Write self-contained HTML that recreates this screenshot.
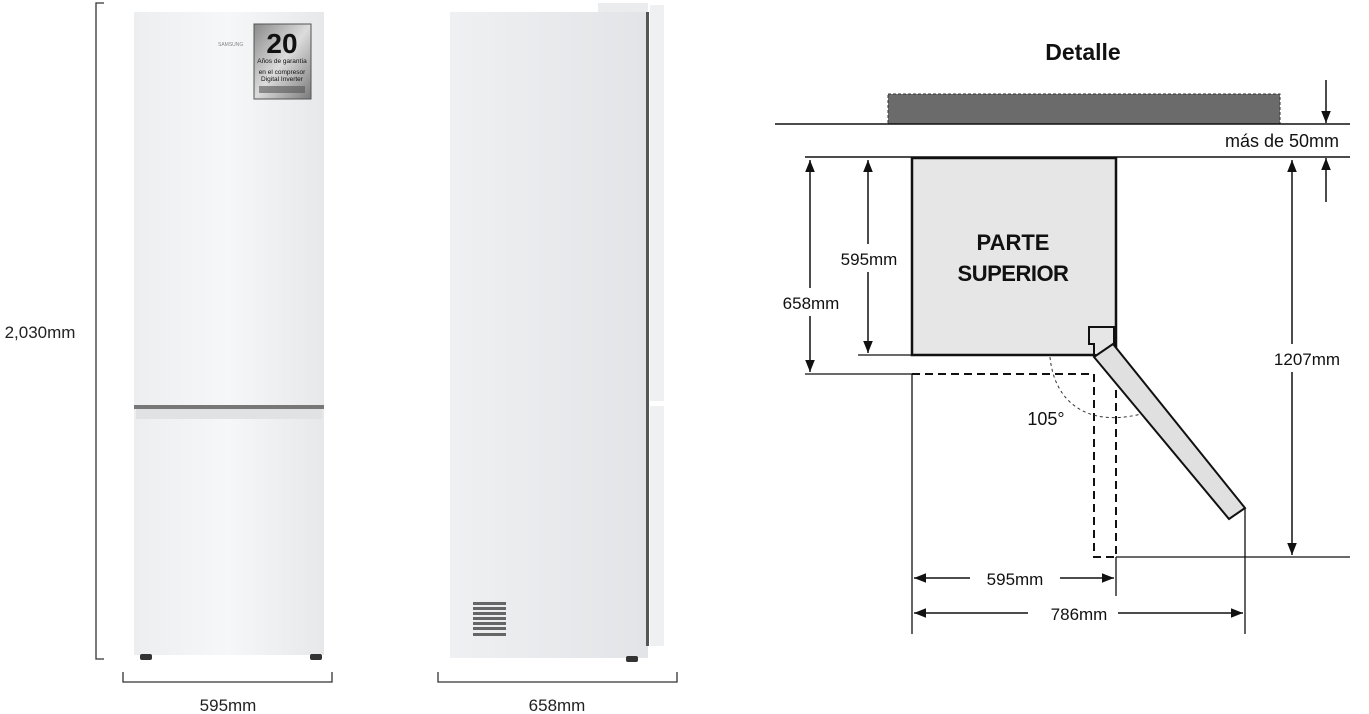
<!DOCTYPE html>
<html><head><meta charset="utf-8"><style>
html,body{margin:0;padding:0;background:#fff;}
svg{display:block;font-family:"Liberation Sans","DejaVu Sans",sans-serif;}
</style></head><body>
<svg width="1369" height="714" viewBox="0 0 1369 714" xmlns="http://www.w3.org/2000/svg">
<defs>
<linearGradient id="fr" x1="0" x2="1" y1="0" y2="0">
<stop offset="0" stop-color="#eceef0"/><stop offset="0.5" stop-color="#f6f7f8"/><stop offset="1" stop-color="#e6e8ea"/></linearGradient>
<linearGradient id="sd" x1="0" x2="1" y1="0" y2="0">
<stop offset="0" stop-color="#eef0f2"/><stop offset="1" stop-color="#e2e4e7"/></linearGradient>
<linearGradient id="lbl" x1="0" x2="1" y1="0" y2="1">
<stop offset="0" stop-color="#8a8a8a"/><stop offset="0.5" stop-color="#dcdcdc"/><stop offset="1" stop-color="#7a7a7a"/></linearGradient>
<marker id="ah" viewBox="0 0 10 10" refX="10" refY="5" markerWidth="12" markerHeight="12" markerUnits="userSpaceOnUse" orient="auto-start-reverse"><path d="M0,1 L10,5 L0,9 z" fill="#111"/></marker>
</defs>

<path d="M104,3 H96 V659 H104" fill="none" stroke="#333" stroke-width="1.3"/>
<text x="40" y="338" font-size="17" text-anchor="middle" fill="#222">2,030mm</text>

<rect x="134" y="12" width="190" height="643" fill="url(#fr)"/>
<rect x="134" y="405" width="190" height="4" fill="#777"/>
<rect x="136" y="409" width="186" height="10" fill="#e0e2e4"/>
<rect x="140" y="654" width="12" height="6" fill="#333" rx="2"/>
<rect x="310" y="654" width="12" height="6" fill="#333" rx="2"/>
<text x="218" y="46" font-size="5" fill="#888">SAMSUNG</text>
<rect x="254" y="24" width="57" height="75" fill="url(#lbl)" stroke="#555"/>
<text x="282" y="53" font-size="28" font-weight="bold" text-anchor="middle" fill="#111">20</text>
<text x="282" y="63" font-size="6.5" text-anchor="middle" fill="#111">Años de garantía</text>
<text x="282" y="74" font-size="6.5" text-anchor="middle" fill="#111">en el compresor</text>
<text x="282" y="81" font-size="6.5" text-anchor="middle" fill="#111">Digital Inverter</text>
<rect x="259" y="86" width="46" height="7" fill="#555" opacity="0.6"/>
<path d="M123,672 V682 H332 V672" fill="none" stroke="#333" stroke-width="1.3"/>
<text x="228" y="711" font-size="17" text-anchor="middle" fill="#222">595mm</text>

<rect x="598" y="3" width="50" height="10" fill="#eaecee"/>
<rect x="650" y="5" width="14" height="396" fill="#eef0f1"/>
<rect x="650" y="406" width="14" height="240" fill="#eef0f1"/>
<rect x="450" y="12" width="198" height="646" fill="url(#sd)"/>
<rect x="646" y="12" width="3" height="634" fill="#555"/>
<g fill="#666">
<rect x="473" y="602" width="33" height="3"/><rect x="473" y="607" width="33" height="3"/><rect x="473" y="612" width="33" height="3"/><rect x="473" y="617" width="33" height="3"/><rect x="473" y="622" width="33" height="3"/><rect x="473" y="627" width="33" height="3"/><rect x="473" y="633" width="33" height="3"/>
</g>
<rect x="626" y="656" width="12" height="6" fill="#333" rx="2"/>
<path d="M438,672 V682 H677 V672" fill="none" stroke="#333" stroke-width="1.3"/>
<text x="557" y="711" font-size="17" text-anchor="middle" fill="#222">658mm</text>

<text x="1083" y="60" font-size="23" font-weight="bold" text-anchor="middle" fill="#111">Detalle</text>
<rect x="888" y="94" width="392" height="30" fill="#6b6b6b" stroke="#333" stroke-dasharray="3,2"/>
<line x1="775" y1="124" x2="1350" y2="124" stroke="#111" stroke-width="1.5"/>
<line x1="805" y1="157" x2="1350" y2="157" stroke="#111" stroke-width="1.5"/>
<line x1="1326" y1="80" x2="1326" y2="123" stroke="#111" stroke-width="1.5" marker-end="url(#ah)"/>
<line x1="1326" y1="202" x2="1326" y2="158" stroke="#111" stroke-width="1.5" marker-end="url(#ah)"/>
<text x="1282" y="147" font-size="18" text-anchor="middle" fill="#111">más de 50mm</text>

<g fill="none" stroke="#111" stroke-width="2" stroke-dasharray="8,5">
<path d="M912,374 H1094 V557 H1116 V385"/>
</g>
<path d="M1050,357 C1054,400 1085,428 1141,414" fill="none" stroke="#333" stroke-width="1" stroke-dasharray="3,3"/>
<text x="1046" y="425" font-size="18" text-anchor="middle" fill="#111">105°</text>

<rect x="912" y="158" width="204" height="197" fill="#e6e6e6" stroke="#111" stroke-width="2.5"/>
<path d="M1089,327 H1114 V355 H1094 V344 H1089 Z" fill="#e6e6e6" stroke="#111" stroke-width="2"/>
<polygon points="1094,357 1113,344 1245,508 1229,519" fill="#e0e0e0" stroke="#111" stroke-width="2"/>
<text x="1013" y="250" font-size="22" font-weight="bold" text-anchor="middle" fill="#111">PARTE</text>
<text x="1013" y="281" font-size="22" font-weight="bold" text-anchor="middle" fill="#111" letter-spacing="-0.5">SUPERIOR</text>

<line x1="858" y1="355" x2="912" y2="355" stroke="#111" stroke-width="1.3"/>
<line x1="805" y1="374" x2="912" y2="374" stroke="#111" stroke-width="1.3"/>
<line x1="810" y1="160" x2="810" y2="372" stroke="#111" stroke-width="1.5" marker-start="url(#ah)" marker-end="url(#ah)"/>
<line x1="868" y1="160" x2="868" y2="353" stroke="#111" stroke-width="1.5" marker-start="url(#ah)" marker-end="url(#ah)"/>
<rect x="775" y="288" width="72" height="28" fill="#fff"/>
<text x="811" y="309" font-size="17" text-anchor="middle" fill="#111">658mm</text>
<rect x="832" y="244" width="74" height="28" fill="#fff"/>
<text x="869" y="265" font-size="17" text-anchor="middle" fill="#111">595mm</text>

<line x1="1116" y1="557" x2="1350" y2="557" stroke="#111" stroke-width="1.3"/>
<line x1="1292" y1="160" x2="1292" y2="555" stroke="#111" stroke-width="1.5" marker-start="url(#ah)" marker-end="url(#ah)"/>
<rect x="1252" y="344" width="112" height="28" fill="#fff"/>
<text x="1307" y="365" font-size="17" text-anchor="middle" fill="#111">1207mm</text>

<line x1="912" y1="374" x2="912" y2="634" stroke="#111" stroke-width="1.3"/>
<line x1="1116" y1="557" x2="1116" y2="596" stroke="#111" stroke-width="1.3"/>
<line x1="1245" y1="508" x2="1245" y2="634" stroke="#111" stroke-width="1.3"/>
<line x1="914" y1="578" x2="1114" y2="578" stroke="#111" stroke-width="1.5" marker-start="url(#ah)" marker-end="url(#ah)"/>
<line x1="914" y1="613" x2="1243" y2="613" stroke="#111" stroke-width="1.5" marker-start="url(#ah)" marker-end="url(#ah)"/>
<rect x="970" y="565" width="90" height="26" fill="#fff"/>
<text x="1015" y="585" font-size="17" text-anchor="middle" fill="#111">595mm</text>
<rect x="1028" y="600" width="90" height="26" fill="#fff"/>
<text x="1079" y="620" font-size="17" text-anchor="middle" fill="#111">786mm</text>
</svg>
</body></html>
